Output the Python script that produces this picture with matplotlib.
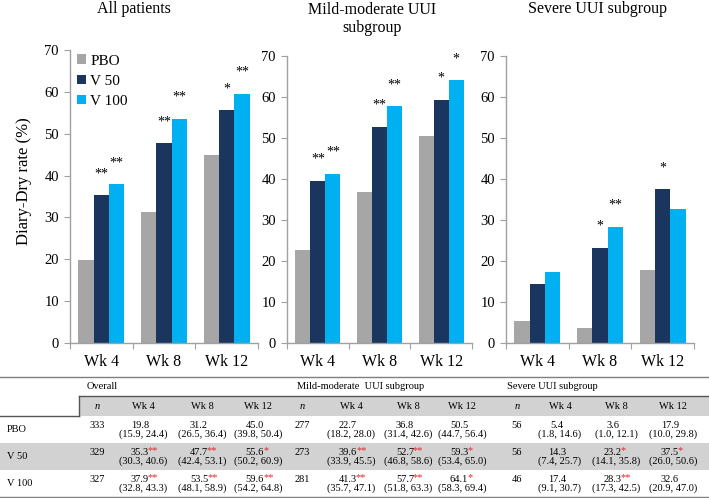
import numpy as np
import matplotlib
matplotlib.use('Agg')
import matplotlib.pyplot as plt
from matplotlib.patches import Rectangle

plt.rcParams['font.family'] = ['Liberation Serif', 'DejaVu Serif']

W, H = 709, 498

weeks = ['Wk 4', 'Wk 8', 'Wk 12']
arms = ['PBO', 'V 50', 'V 100']
arm_colors = ['#a6a6a6', '#1b365e', '#00b0f0']
panel_titles = ['All patients', 'Mild-moderate UUI\nsubgroup', 'Severe UUI subgroup']
table_groups = ['Overall', 'Mild-moderate  UUI subgroup', 'Severe UUI subgroup']

# diary-dry rate (%) by week
overall_pbo = [19.8, 31.2, 45.0]
overall_v50 = [35.3, 47.7, 55.6]
overall_v100 = [37.9, 53.5, 59.6]
mild_pbo = [22.7, 36.8, 50.5]
mild_v50 = [39.6, 52.7, 59.3]
mild_v100 = [41.3, 57.7, 64.1]
severe_pbo = [5.4, 3.6, 17.9]
severe_v50 = [14.3, 23.2, 37.5]
severe_v100 = [17.4, 28.3, 32.6]

# significance vs placebo
overall_v50_sig = ['**', '**', '*']
overall_v100_sig = ['**', '**', '**']
mild_v50_sig = ['**', '**', '*']
mild_v100_sig = ['**', '**', '*']
severe_v50_sig = ['', '*', '*']
severe_v100_sig = ['', '**', '']
no_sig = ['', '', '']

# 95% CI
overall_pbo_ci = [(15.9, 24.4), (26.5, 36.4), (39.8, 50.4)]
overall_v50_ci = [(30.3, 40.6), (42.4, 53.1), (50.2, 60.9)]
overall_v100_ci = [(32.8, 43.3), (48.1, 58.9), (54.2, 64.8)]
mild_pbo_ci = [(18.2, 28.0), (31.4, 42.6), (44.7, 56.4)]
mild_v50_ci = [(33.9, 45.5), (46.8, 58.6), (53.4, 65.0)]
mild_v100_ci = [(35.7, 47.1), (51.8, 63.3), (58.3, 69.4)]
severe_pbo_ci = [(1.8, 14.6), (1.0, 12.1), (10.0, 29.8)]
severe_v50_ci = [(7.4, 25.7), (14.1, 35.8), (26.0, 50.6)]
severe_v100_ci = [(9.1, 30.7), (17.3, 42.5), (20.9, 47.0)]

overall_n = [333, 329, 327]
mild_n = [277, 273, 281]
severe_n = [56, 56, 46]

panels = [
    dict(vals=[overall_pbo, overall_v50, overall_v100],
         sig=[no_sig, overall_v50_sig, overall_v100_sig],
         ci=[overall_pbo_ci, overall_v50_ci, overall_v100_ci], n=overall_n),
    dict(vals=[mild_pbo, mild_v50, mild_v100],
         sig=[no_sig, mild_v50_sig, mild_v100_sig],
         ci=[mild_pbo_ci, mild_v50_ci, mild_v100_ci], n=mild_n),
    dict(vals=[severe_pbo, severe_v50, severe_v100],
         sig=[no_sig, severe_v50_sig, severe_v100_sig],
         ci=[severe_pbo_ci, severe_v50_ci, severe_v100_ci], n=severe_n),
]


def px_rect(left, top, right, bottom):
    return [left / W, 1 - bottom / H, (right - left) / W, (bottom - top) / H]


fig = plt.figure(figsize=(W / 100, H / 100), dpi=100)

# ---- table (drawn in pixel space on a full-figure axes) ----
tax = fig.add_axes([0, 0, 1, 1])
tax.set_xlim(0, W)
tax.set_ylim(H, 0)
tax.axis('off')

shade = '#d2d2d2'
line_c = '#7f7f7f'
tfs = 7.5
tax.add_patch(Rectangle((79, 396), W - 79, 20, color=shade, lw=0))
tax.add_patch(Rectangle((0, 443), W, 27, color=shade, lw=0))
tax.plot([0, W], [377, 377], color=line_c, lw=1.0)
tax.plot([79, W], [396, 396], color='#555555', lw=1.0)
tax.plot([79, 79], [396, 416], color='#555555', lw=1.0)
tax.plot([0, 79], [416, 416], color='#555555', lw=1.0)
tax.plot([0, W], [497, 497], color=line_c, lw=1.0)

n_x = [97, 302, 517]
week_x = [[143, 202, 258], [351, 408, 462], [560, 616, 673]]
group_x = [87, 297, 507]
row_y = [425, 452, 479]
label_y = [429, 456, 483]

for g, p in enumerate(panels):
    tax.text(group_x[g], 386, table_groups[g], fontsize=tfs, ha='left', va='center')
    tax.text(n_x[g], 406, 'n', fontsize=tfs, style='italic', ha='center', va='center')
    for w in range(3):
        tax.text(week_x[g][w], 406, weeks[w], fontsize=tfs, ha='center', va='center')
    for a in range(3):
        y = row_y[a]
        tax.text(n_x[g], y, str(p['n'][a]), fontsize=tfs, ha='center', va='center')
        for w in range(3):
            cx = week_x[g][w]
            t = tax.text(cx - 3, y, f"{p['vals'][a][w]:.1f}", fontsize=tfs,
                         ha='center', va='center')
            if p['sig'][a][w]:
                tax.annotate(p['sig'][a][w], xy=(1, 1), xycoords=t, fontsize=tfs,
                             color='#e8262b', ha='left', va='top',
                             xytext=(-0.8, 0.8), textcoords='offset points')
            lo, hi = p['ci'][a][w]
            tax.text(cx, y + 9, f'({lo:.1f}, {hi:.1f})', fontsize=tfs,
                     ha='center', va='center')

for a in range(3):
    tax.text(7, label_y[a], arms[a], fontsize=tfs, ha='left', va='center')

# ---- bar panels ----
axes_px = [(70, 50, 258, 343), (287, 56, 472, 343), (506, 56, 694, 343)]
title_px = [(134, 9), (372, 19), (597, 9)]
spine_c = '#a0a0a0'
width = 0.245
x = np.arange(3) + 0.5

for i, p in enumerate(panels):
    ax = fig.add_axes(px_rect(*axes_px[i]))
    for a in range(3):
        xs = x + (a - 1) * width
        ax.bar(xs, p['vals'][a], width, color=arm_colors[a], label=arms[a], lw=0)
        for xi, v, s in zip(xs, p['vals'][a], p['sig'][a]):
            if s:
                ax.annotate(s, xy=(xi, v), xytext=(0, 13), textcoords='offset points',
                            ha='center', va='baseline', fontsize=10)
    ax.set_xlim(0, 3)
    ax.set_ylim(0, 70)
    ax.set_yticks(np.arange(0, 71, 10))
    ax.set_xticks([0, 1, 2, 3])
    ax.set_xticklabels([])
    ax.set_xticks(x, minor=True)
    ax.set_xticklabels(weeks, minor=True, fontsize=11.5)
    ax.tick_params(axis='x', which='minor', length=0, pad=8)
    ax.tick_params(axis='x', which='major', length=4, color=spine_c)
    ax.tick_params(axis='y', length=4, color=spine_c, labelsize=10.5, pad=4)
    for s in ['top', 'right']:
        ax.spines[s].set_visible(False)
    for s in ['left', 'bottom']:
        ax.spines[s].set_color(spine_c)
        ax.spines[s].set_linewidth(1.0)
    ax.patch.set_visible(False)
    tx, ty = title_px[i]
    fig.text(tx / W, 1 - ty / H, panel_titles[i], fontsize=11.5, ha='center',
             va='center', linespacing=1.25)
    if i == 0:
        ax.legend(loc='upper left', bbox_to_anchor=(0.035, 0.985), frameon=False,
                  fontsize=11, handlelength=0.6, handleheight=0.6,
                  handletextpad=0.3, labelspacing=0.45, borderpad=0,
                  borderaxespad=0)

fig.text(24 / W, 1 - 181 / H, 'Diary-Dry rate (%)', rotation=90, fontsize=12,
         ha='center', va='center')

fig.savefig('out.png', dpi=100)
